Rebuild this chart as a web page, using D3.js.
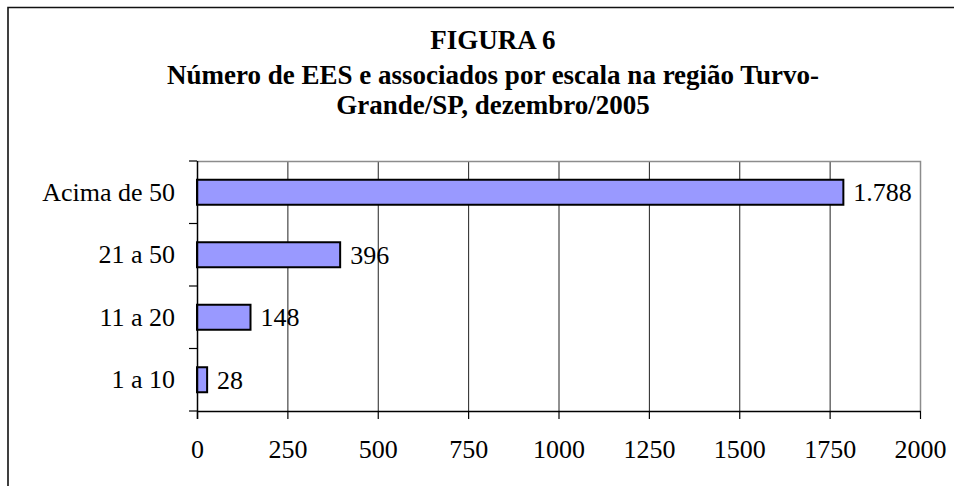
<!DOCTYPE html>
<html>
<head>
<meta charset="utf-8">
<script src="https://cdn.jsdelivr.net/npm/d3@7"></script>
<style>
  body { margin: 0; background: #fff; }
  svg { display: block; font-family: "Liberation Serif", "Times New Roman", serif; }
</style>
</head>
<body>
<svg id="chart" width="954" height="486"></svg>
<script>
// Categories, top to bottom as drawn
const categories = ["Acima de 50", "21 a 50", "11 a 20", "1 a 10"];
const values = [1788, 396, 148, 28];
const xTicks = [0, 250, 500, 750, 1000, 1250, 1500, 1750, 2000];
const titleLines = [
    "FIGURA 6",
    "Número de EES e associados por escala na região Turvo-",
    "Grande/SP, dezembro/2005"
];

const svg = d3.select("#chart");
const margin = {left: 197, top: 161, right: 34, bottom: 75};
const width = 954 - margin.left - margin.right;
const height = 486 - margin.top - margin.bottom;
const labelSize = 26;

// pt-BR number format, "1.788"
const br = d3.formatLocale({decimal: ",", thousands: ".", grouping: [3], currency: ["R$", ""]});
const fmt = br.format(",d");

// outer frame (only top and left edges show)
svg.append("path")
    .attr("d", "M8,486V7.5H954")
    .attr("fill", "none")
    .attr("stroke", "#111")
    .attr("stroke-width", 1.6);

// title
svg.append("g")
    .selectAll("text")
    .data(titleLines)
    .join("text")
    .attr("x", 493)
    .attr("y", (d, i) => [49, 84, 114][i])
    .attr("text-anchor", "middle")
    .attr("font-weight", "bold")
    .attr("font-size", 27)
    .text(d => d);

const x = d3.scaleLinear()
    .domain([0, 2000])
    .range([0, width]);

const y = d3.scaleBand()
    .domain(categories)
    .range([0, height])
    .paddingInner(0.6)
    .paddingOuter(0.3);

const g = svg.append("g")
    .attr("transform", `translate(${margin.left},${margin.top})`);

// gridlines
g.append("g")
    .selectAll("line")
    .data(xTicks.slice(1, -1))
    .join("line")
    .attr("x1", d => x(d) + 0.5)
    .attr("x2", d => x(d) + 0.5)
    .attr("y1", 0)
    .attr("y2", height)
    .attr("stroke", "#222")
    .attr("stroke-width", 1);

// plot border top + right (gray)
g.append("path")
    .attr("d", `M0,0.5H${width + 0.5}V${height}`)
    .attr("fill", "none")
    .attr("stroke", "#8c8c8c")
    .attr("stroke-width", 1.5);

// bars
g.append("g")
    .selectAll("rect")
    .data(values)
    .join("rect")
    .attr("x", x(0))
    .attr("y", (d, i) => y(categories[i]))
    .attr("width", d => x(d))
    .attr("height", y.bandwidth())
    .attr("fill", "#9999ff")
    .attr("stroke", "#000")
    .attr("stroke-width", 2);

// value labels
g.append("g")
    .selectAll("text")
    .data(values)
    .join("text")
    .attr("x", d => x(d) + 10)
    .attr("y", (d, i) => y(categories[i]) + y.bandwidth() / 2)
    .attr("dy", "0.35em")
    .attr("font-size", labelSize)
    .text(d => fmt(d));

// x axis
const xAxis = g.append("g")
    .attr("transform", `translate(0,${height})`)
    .call(d3.axisBottom(x).tickValues(xTicks).tickFormat(d3.format("d"))
        .tickSize(8).tickPadding(21).tickSizeOuter(0));
xAxis.select(".domain").attr("stroke", "#000").attr("stroke-width", 1.5);
xAxis.selectAll(".tick line").attr("stroke", "#000").attr("stroke-width", 1.2);
xAxis.selectAll("text")
    .attr("font-family", "Liberation Serif, serif")
    .attr("font-size", labelSize)
    .attr("fill", "#000");

// y axis: labels centered on bands, ticks at band boundaries
const yAxis = g.append("g")
    .call(d3.axisLeft(y).tickSize(0).tickPadding(22));
yAxis.select(".domain").remove();
yAxis.selectAll("text")
    .attr("font-family", "Liberation Serif, serif")
    .attr("font-size", labelSize)
    .attr("fill", "#000");

const step = y.step();
g.append("g")
    .selectAll("line")
    .data(d3.range(categories.length + 1))
    .join("line")
    .attr("x1", -8)
    .attr("x2", 0)
    .attr("y1", i => i * step)
    .attr("y2", i => i * step)
    .attr("stroke", "#000")
    .attr("stroke-width", 1.2);

g.append("line")
    .attr("x1", 0.5)
    .attr("x2", 0.5)
    .attr("y1", 0)
    .attr("y2", height + 8)
    .attr("stroke", "#000")
    .attr("stroke-width", 1.5);
</script>
</body>
</html>
